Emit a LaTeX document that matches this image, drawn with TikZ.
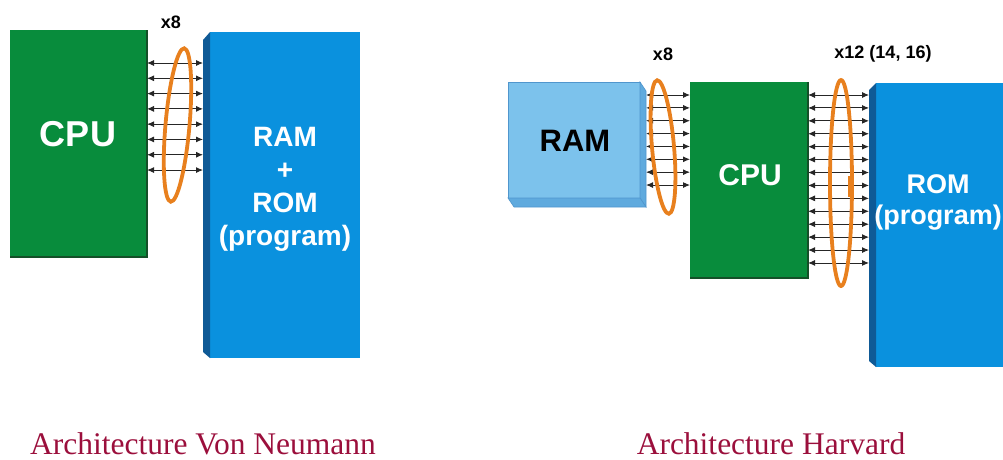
\documentclass[tikz,border=0pt]{standalone}
\usepackage{fontspec}
\setmainfont{Liberation Serif}
\newfontfamily\arialb{Liberation Sans}[BoldFont={* Bold}]
\usetikzlibrary{arrows.meta,shapes.geometric}
\definecolor{cpugreen}{RGB}{8,140,60}
\definecolor{cpuedge}{RGB}{20,80,40}
\definecolor{romblue}{RGB}{10,145,222}
\definecolor{romedge}{RGB}{15,90,150}
\definecolor{ramblue}{RGB}{124,194,236}
\definecolor{ramedge}{RGB}{80,150,205}
\definecolor{ramside}{RGB}{95,170,222}
\definecolor{loopor}{RGB}{232,128,30}
\definecolor{capred}{RGB}{155,15,60}
\tikzset{
  boxn/.style={inner sep=0pt, outer sep=0pt, anchor=north west},
  cpubox/.style={boxn, fill=cpugreen},
  rombox/.style={boxn, fill=romblue},
  rambox/.style={boxn, fill=ramblue, draw=ramedge, line width=0.6pt},
  wtext/.style={text=white, font=\arialb\bfseries\fontsize{#1}{#1}\selectfont, align=center, inner sep=0pt},
  btext/.style={text=black, font=\arialb\bfseries\fontsize{#1}{#1}\selectfont, inner sep=0pt},
  bus/.style={draw=black!85, line width=0.9pt, {Latex[length=7pt,width=6pt]}-{Latex[length=7pt,width=6pt]}},
  loopring/.style={ellipse, draw=loopor, line width=3.8pt, inner sep=0pt},
  caption/.style={text=capred, font=\fontsize{31.5}{34}\selectfont, anchor=base, inner sep=0pt}
}
\begin{document}
\begin{tikzpicture}[x=1pt,y=-1pt]
\useasboundingbox (0,0) rectangle (1003,459);
% ---------- Von Neumann ----------
\node[cpubox, minimum width=137pt, minimum height=227pt] (cpuA) at (10,30) {};
\draw[cpuedge, line width=2pt] (cpuA.south west) -- (cpuA.south east) -- (cpuA.north east);
\node[wtext=36] (cpuAt) at (78,134) {CPU};
\node[rombox, minimum width=150pt, minimum height=326pt] (memA) at (210,32) {};
\fill[romedge] (memA.north west) -- (203,40) -- (203,352) -- (memA.south west) -- cycle;
\coordinate (stripA) at (203,100);
\node[wtext=28, font=\arialb\bfseries\fontsize{28}{33}\selectfont] (memAt) at (285,189) {RAM\\+\\ROM\\(program)};
\foreach \i in {0,...,7}{
  \pgfmathsetmacro{\yy}{63+\i*15.29}
  \draw[bus] (cpuA.east |- 0,\yy) -- (stripA |- 0,\yy);
}
\node[loopring, minimum width=24pt, minimum height=154pt, rotate=-5] (loopA) at (177.5,125) {};
\node[btext=18] (xA) at (171,22) {x8};
% ---------- Harvard ----------
\node[rambox, minimum width=132pt, minimum height=116pt] (ramB) at (508,82) {};
\filldraw[fill=ramside, draw=ramedge, line width=0.6pt] (ramB.north east) -- (646,91) -- (646,207) -- (ramB.south east) -- cycle;
\filldraw[fill=ramside, draw=ramedge, line width=0.6pt] (ramB.south west) -- (ramB.south east) -- (646,207) -- (514,207) -- cycle;
\coordinate (stripR) at (646,100);
\node[btext=31] (ramBt) at (575,141) {RAM};
\node[cpubox, minimum width=118pt, minimum height=196pt] (cpuB) at (690,82) {};
\draw[cpuedge, line width=2pt] (cpuB.south west) -- (cpuB.south east) -- (cpuB.north east);
\node[wtext=30] (cpuBt) at (750,175) {CPU};
\node[rombox, minimum width=140pt, minimum height=284pt] (romB) at (876,83) {};
\fill[romedge] (romB.north west) -- (869,90) -- (869,361) -- (romB.south west) -- cycle;
\coordinate (stripB) at (869,100);
\node[wtext=27, font=\arialb\bfseries\fontsize{27}{31}\selectfont] (romBt) at (938,202) {ROM\\(program)};
\foreach \i in {0,...,7}{
  \pgfmathsetmacro{\yy}{95+\i*12.86}
  \draw[bus] (stripR |- 0,\yy) -- (cpuB.west |- 0,\yy);
}
\foreach \i in {0,...,13}{
  \pgfmathsetmacro{\yy}{95+\i*12.92}
  \draw[bus] (cpuB.east |- 0,\yy) -- (stripB |- 0,\yy);
}
\node[loopring, minimum width=22pt, minimum height=134pt, rotate=5] (loopB) at (663,147) {};
\node[loopring, minimum width=22pt, minimum height=206pt] (loopC) at (841,183) {};
\draw[loopor, line width=3pt] (849,176) -- (849,197);
\node[btext=18] (xB) at (663,54) {x8};
\node[btext=18] (xC) at (883,54) {x12 (14, 16)};
% ---------- captions ----------
\node[caption] (capA) at (203,454) {Architecture Von Neumann};
\node[caption] (capB) at (771,454) {Architecture Harvard};
\end{tikzpicture}
\end{document}
